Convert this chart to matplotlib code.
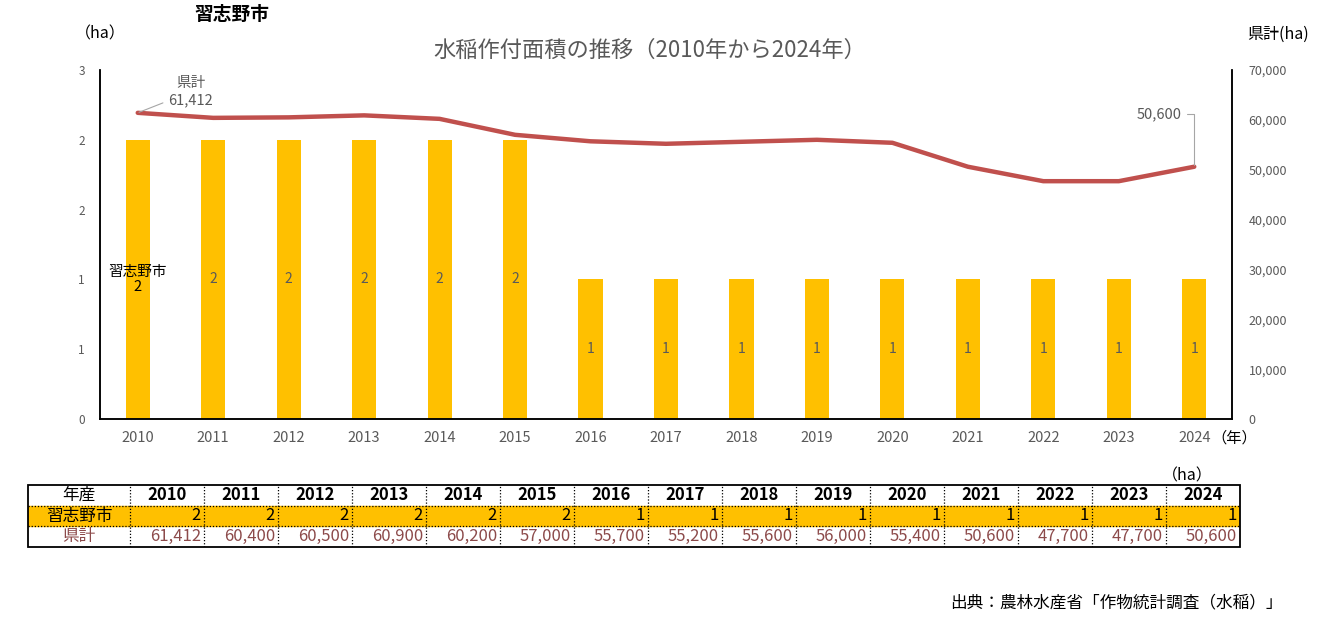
import matplotlib
matplotlib.use("Agg")
import matplotlib.pyplot as plt
import numpy as np

plt.rcParams["font.family"] = ["Noto Sans CJK JP", "DejaVu Sans"]

# data
YEARS = [2010, 2011, 2012, 2013, 2014, 2015, 2016, 2017, 2018, 2019,
         2020, 2021, 2022, 2023, 2024]
CITY = [2.4, 2.4, 2.4, 2.4, 2.4, 2.4, 1.2, 1.2, 1.2, 1.2,
        1.2, 1.2, 1.2, 1.2, 1.2]
PREF = [61412, 60400, 60500, 60900, 60200, 57000, 55700, 55200, 55600, 56000,
        55400, 50600, 47700, 47700, 50600]
LEFT_TICKS = [0, 0.6, 1.2, 1.8, 2.4, 3.0]
RIGHT_TICKS = [0, 10000, 20000, 30000, 40000, 50000, 60000, 70000]

CITY_NAME = "習志野市"
PREF_NAME = "県計"

BAR_COLOR = "#FFC000"
LINE_COLOR = "#C0504D"
GRAY = "#595959"
PREF_TXT = "#8C4A4A"

W, H = 1325, 632
fig = plt.figure(figsize=(W / 100, H / 100), dpi=100)

# ---- main chart ----
ax = fig.add_axes([100 / W, 1 - 419 / H, 1132 / W, 349 / H])
x = np.arange(len(YEARS))
ax.bar(x, CITY, width=0.32, color=BAR_COLOR, zorder=2)
ax.set_xlim(-0.5, len(YEARS) - 0.5)
ax.set_ylim(0, 3)
ax.set_yticks(LEFT_TICKS)
ax.set_yticklabels([f"{t:.0f}" for t in LEFT_TICKS])
ax.set_xticks(x)
ax.set_xticklabels([str(y) for y in YEARS])
ax.tick_params(axis="y", length=0, pad=11, labelsize=8.5, labelcolor=GRAY)
ax.tick_params(axis="x", length=0, pad=9, labelsize=10.5, labelcolor=GRAY)
ax.spines["top"].set_visible(False)
for s in ["left", "bottom", "right"]:
    ax.spines[s].set_color("black")
    ax.spines[s].set_linewidth(1.1)

for i, v in enumerate(CITY):
    if i == 0:
        ax.text(i, v / 2, f"{CITY_NAME}\n{v:.0f}", ha="center", va="center",
                fontsize=10.5, color="black", linespacing=1.15, zorder=4)
    else:
        ax.text(i, v / 2, f"{v:.0f}", ha="center", va="center",
                fontsize=10, color=GRAY, zorder=4)

ax2 = ax.twinx()
ax2.plot(x, PREF, color=LINE_COLOR, lw=3.2, solid_capstyle="round", zorder=3)
ax2.set_ylim(0, 70000)
ax2.set_yticks(RIGHT_TICKS)
ax2.set_yticklabels([f"{t:,}" for t in RIGHT_TICKS])
ax2.tick_params(axis="y", length=0, pad=12, labelsize=9, labelcolor=GRAY)
ax2.spines["top"].set_visible(False)
for s in ["left", "bottom", "right"]:
    ax2.spines[s].set_color("black")
    ax2.spines[s].set_linewidth(1.1)

# leader-line labels on the line
ax2.annotate(f"{PREF_NAME}\n{PREF[0]:,}", xy=(0, PREF[0]), xytext=(22, 15),
             textcoords="offset points", ha="left", va="center",
             multialignment="center", fontsize=10.5, color=GRAY, linespacing=1.3,
             arrowprops=dict(arrowstyle="-", color="#A6A6A6", lw=0.8,
                             shrinkA=2, shrinkB=1))
ax2.annotate(f"{PREF[-1]:,}", xy=(len(YEARS) - 1, PREF[-1]), xytext=(-9, 38),
             textcoords="offset points", ha="right", va="center",
             fontsize=10.5, color=GRAY,
             arrowprops=dict(arrowstyle="-", color="#A6A6A6", lw=0.8,
                             connectionstyle="angle,angleA=0,angleB=90,rad=0",
                             shrinkA=2, shrinkB=1))

# titles and unit labels
fig.text(232 / W, 1 - 14 / H, CITY_NAME, ha="center", va="center",
         fontsize=13.5, fontweight="bold", color="black")
fig.text(650 / W, 1 - 50 / H, "水稲作付面積の推移（2010年から2024年）",
         ha="center", va="center", fontsize=16, color=GRAY)
fig.text(100 / W, 1 - 34 / H, "（ha）", ha="center", va="center",
         fontsize=11.5, color="black")
fig.text(1278 / W, 1 - 34 / H, "県計(ha)", ha="center", va="center",
         fontsize=11.5, color="black")
fig.text(1234 / W, 1 - 438 / H, "（年）", ha="center", va="center",
         fontsize=11, color="black")
fig.text(1187 / W, 1 - 476 / H, "（ha）", ha="center", va="center",
         fontsize=11.5, color="black")
fig.text(1283 / W, 1 - 603 / H, "出典：農林水産省「作物統計調査（水稲）」",
         ha="right", va="center", fontsize=12, color="black")

# ---- data table ----
tab = fig.add_axes([28 / W, 1 - 547 / H, 1212 / W, 62 / H])
tab.set_xlim(0, 1212)
tab.set_ylim(0, 62)
tab.axis("off")

col_w = [102] + [74] * len(YEARS)
edges = np.concatenate([[0], np.cumsum(col_w)])
rows = [(41, 62), (21, 41), (0, 21)]  # header, city, prefecture

tab.axhspan(rows[1][0], rows[1][1], color=BAR_COLOR, zorder=1)
for e in edges[1:-1]:
    tab.plot([e, e], [0, 62], color="black", lw=0.9, ls=(0, (1, 1.5)), zorder=2)
for r in [rows[1][1], rows[1][0]]:
    tab.plot([0, edges[-1]], [r, r], color="black", lw=0.9, ls=(0, (1, 1.5)), zorder=2)
tab.add_patch(plt.Rectangle((0, 0), edges[-1], 62, fill=False, ec="black",
                            lw=1.3, zorder=3, clip_on=False))


def mid(r):
    return (r[0] + r[1]) / 2


tab.text(col_w[0] / 2, mid(rows[0]), "年産", ha="center", va="center",
         fontsize=12, color="black")
tab.text(col_w[0] / 2, mid(rows[1]), CITY_NAME, ha="center", va="center",
         fontsize=12, color="black")
tab.text(col_w[0] / 2, mid(rows[2]), PREF_NAME, ha="center", va="center",
         fontsize=12, color=PREF_TXT)
for i, yr in enumerate(YEARS):
    c0, c1 = edges[i + 1], edges[i + 2]
    tab.text((c0 + c1) / 2, mid(rows[0]), str(yr), ha="center", va="center",
             fontsize=12, fontweight="bold", color="black")
    tab.text(c1 - 3, mid(rows[1]), f"{CITY[i]:.0f}", ha="right", va="center",
             fontsize=12, color="black")
    tab.text(c1 - 3, mid(rows[2]), f"{PREF[i]:,}", ha="right", va="center",
             fontsize=12, color=PREF_TXT)

fig.savefig("out.png", dpi=100, facecolor="white")
